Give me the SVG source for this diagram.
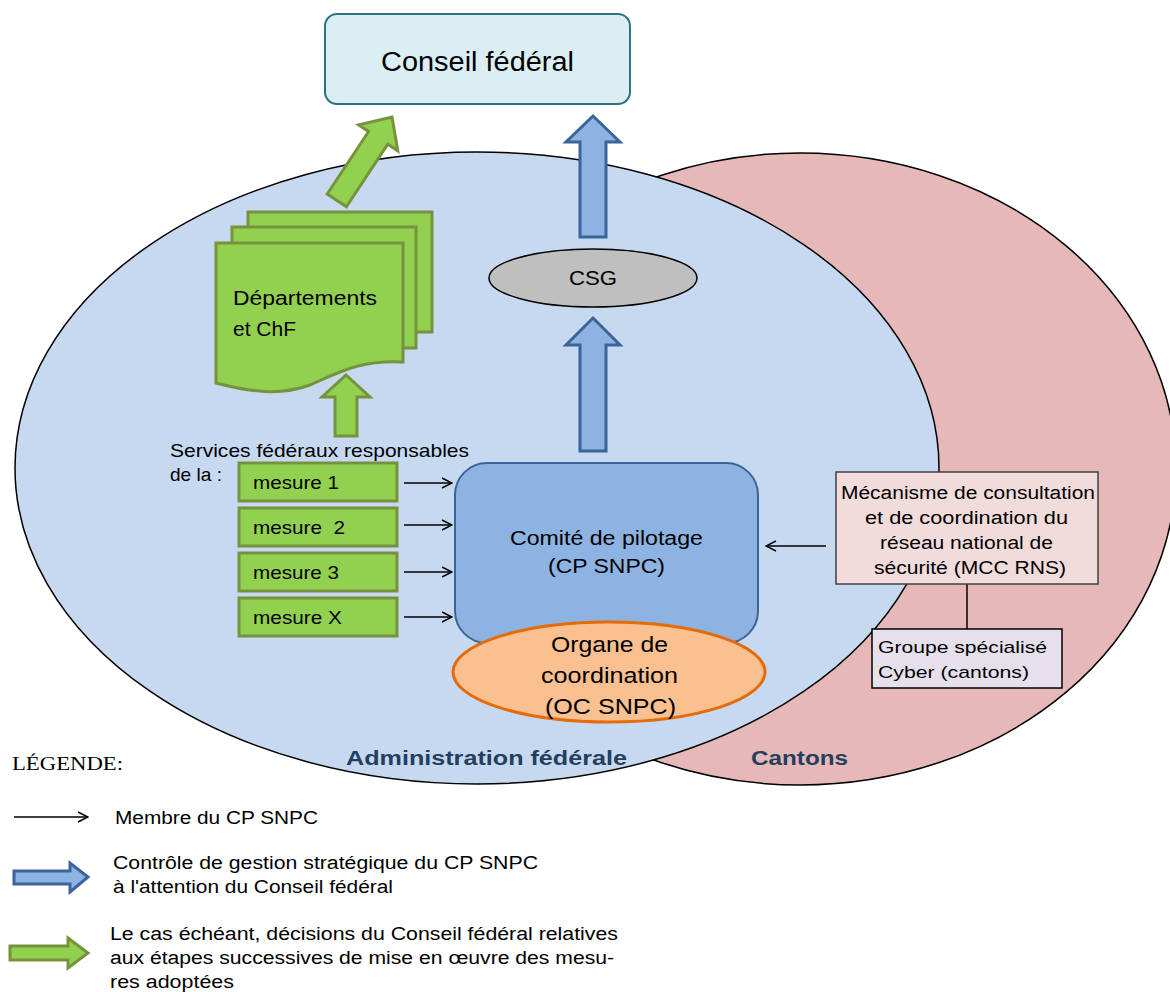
<svg xmlns="http://www.w3.org/2000/svg" width="1170" height="992" viewBox="0 0 1170 992">
<style>
text{font-family:"Liberation Sans",Arial,sans-serif;fill:#000}
.g{fill:#92d050;stroke:#76923c;stroke-width:3}
.b{fill:#8db3e2;stroke:#3b659a;stroke-width:3}
.ln{stroke:#000;stroke-width:1.5;fill:none}
.lbl{font-size:20px;font-weight:bold;fill:#243f60}
</style>
<defs>
<marker id="ah" viewBox="0 0 12 12" refX="11" refY="6" markerWidth="12" markerHeight="12" markerUnits="userSpaceOnUse" orient="auto">
<path d="M1,1 L11,6 L1,11" fill="none" stroke="#000" stroke-width="1.5"/>
</marker>
</defs>
<rect width="1170" height="992" fill="#fff"/>
<g id="cantons-area">
<ellipse cx="800" cy="469" rx="376" ry="316" fill="#e6b9b8" stroke="#000" stroke-width="1.5"/>
</g>
<g id="admin-area">
<ellipse cx="477" cy="468" rx="462" ry="316" fill="#c6d9f1" stroke="#000" stroke-width="1.5"/>
</g>
<text class="lbl" x="346" y="765" font-size="21" textLength="281" lengthAdjust="spacingAndGlyphs">Administration fédérale</text>
<text class="lbl" x="751" y="765" font-size="21" textLength="97" lengthAdjust="spacingAndGlyphs">Cantons</text>

<g id="conseil">
<rect x="325" y="14" width="305" height="90" rx="12" fill="#dbeef3" stroke="#31707f" stroke-width="2"/>
<text x="381" y="71" font-size="27" textLength="193" lengthAdjust="spacingAndGlyphs">Conseil fédéral</text>
</g>

<g id="departements">
<rect class="g" x="248" y="212" width="184" height="120"/>
<rect class="g" x="232" y="227" width="184" height="121"/>
<path class="g" d="M216,243 H403 V362 C360,360 340,372 310,385 C280,396 250,392 216,383 Z"/>
<text x="233" y="305" font-size="20" textLength="144" lengthAdjust="spacingAndGlyphs">Départements</text>
<text x="233" y="336" font-size="20" textLength="63" lengthAdjust="spacingAndGlyphs">et ChF</text>
</g>

<g id="connectors">
<path class="g" transform="translate(392,117) rotate(33.5)" d="M0,0 L23.5,25 L11.5,25 L11.5,100 L-11.5,100 L-11.5,25 L-23.5,25 Z"/>
<path class="g" d="M346,375 L370,397 L357,397 L357,436 L335,436 L335,397 L322,397 Z"/>
<path class="b" d="M593,116 L620,142 L606,142 L606,237 L580,237 L580,142 L566,142 Z"/>
<path class="b" d="M593,318 L620,345 L606,345 L606,451 L580,451 L580,345 L566,345 Z"/>
<line class="ln" x1="404" y1="483" x2="452" y2="483" marker-end="url(#ah)"/>
<line class="ln" x1="404" y1="525" x2="452" y2="525" marker-end="url(#ah)"/>
<line class="ln" x1="404" y1="572" x2="452" y2="572" marker-end="url(#ah)"/>
<line class="ln" x1="404" y1="617" x2="452" y2="617" marker-end="url(#ah)"/>
<line class="ln" x1="826" y1="546" x2="766" y2="546" marker-end="url(#ah)"/>
<line class="ln" x1="967" y1="584" x2="967" y2="629"/>
</g>

<g id="csg">
<ellipse cx="593" cy="278" rx="104" ry="29" fill="#bfbfbf" stroke="#000" stroke-width="1.5"/>
<text x="569" y="285" font-size="21" textLength="48" lengthAdjust="spacingAndGlyphs">CSG</text>
</g>

<g id="services">
<text x="170" y="457" font-size="19" textLength="299" lengthAdjust="spacingAndGlyphs">Services fédéraux responsables</text>
<text x="170" y="481" font-size="19" textLength="52" lengthAdjust="spacingAndGlyphs">de la :</text>
</g>
<g id="mesure1">
<rect class="g" x="239" y="463" width="158" height="38"/>
<text x="253" y="489" font-size="19" textLength="86" lengthAdjust="spacingAndGlyphs">mesure 1</text>
</g>
<g id="mesure2">
<rect class="g" x="239" y="508" width="158" height="38"/>
<text x="253" y="534" font-size="19" xml:space="preserve" textLength="92" lengthAdjust="spacingAndGlyphs">mesure  2</text>
</g>
<g id="mesure3">
<rect class="g" x="239" y="553" width="158" height="38"/>
<text x="253" y="579" font-size="19" textLength="86" lengthAdjust="spacingAndGlyphs">mesure 3</text>
</g>
<g id="mesureX">
<rect class="g" x="239" y="598" width="158" height="38"/>
<text x="253" y="624" font-size="19" textLength="89" lengthAdjust="spacingAndGlyphs">mesure X</text>
</g>

<g id="comite">
<rect x="455" y="463" width="303" height="180" rx="32" fill="#8db3e2" stroke="#3b659a" stroke-width="2"/>
<text x="510" y="545" font-size="20" textLength="193" lengthAdjust="spacingAndGlyphs">Comité de pilotage</text>
<text x="548" y="573" font-size="20" textLength="117" lengthAdjust="spacingAndGlyphs">(CP SNPC)</text>
</g>

<g id="organe">
<ellipse cx="609" cy="672" rx="156" ry="50" fill="#fac090" stroke="#e36c09" stroke-width="3"/>
<text x="551" y="652" font-size="22" textLength="117" lengthAdjust="spacingAndGlyphs">Organe de</text>
<text x="541" y="683" font-size="22" textLength="137" lengthAdjust="spacingAndGlyphs">coordination</text>
<text x="545" y="714" font-size="22" textLength="131" lengthAdjust="spacingAndGlyphs">(OC SNPC)</text>
</g>

<g id="mcc">
<rect x="836" y="472" width="262" height="112" fill="#f2dcdb" stroke="#404040" stroke-width="1.5"/>
<text x="841" y="499" font-size="18" textLength="254" lengthAdjust="spacingAndGlyphs">Mécanisme de consultation</text>
<text x="865" y="524" font-size="18" textLength="203" lengthAdjust="spacingAndGlyphs">et de coordination du</text>
<text x="880" y="549" font-size="18" textLength="173" lengthAdjust="spacingAndGlyphs">réseau national de</text>
<text x="874" y="574" font-size="18" textLength="192" lengthAdjust="spacingAndGlyphs">sécurité (MCC RNS)</text>
</g>

<g id="groupe">
<rect x="872" y="629" width="190" height="59" fill="#e6e0ec" stroke="#000" stroke-width="1.5"/>
<text x="878" y="653" font-size="17" textLength="169" lengthAdjust="spacingAndGlyphs">Groupe spécialisé</text>
<text x="878" y="678" font-size="17" textLength="151" lengthAdjust="spacingAndGlyphs">Cyber (cantons)</text>
</g>

<g id="legende">
<text x="12" y="770" font-size="19" textLength="111" lengthAdjust="spacingAndGlyphs" style="font-family:'Liberation Serif','Times New Roman',serif">LÉGENDE:</text>
<line class="ln" x1="14" y1="817" x2="88" y2="817" marker-end="url(#ah)"/>
<text x="115" y="824" font-size="18" textLength="203" lengthAdjust="spacingAndGlyphs">Membre du CP SNPC</text>
<path class="b" d="M14,871 L70,871 L70,863 L88,877 L70,892 L70,884 L14,884 Z"/>
<text x="113" y="869" font-size="18" textLength="425" lengthAdjust="spacingAndGlyphs">Contrôle de gestion stratégique du CP SNPC</text>
<text x="113" y="893" font-size="18" textLength="280" lengthAdjust="spacingAndGlyphs">à l'attention du Conseil fédéral</text>
<path class="g" d="M10,946 L68,946 L68,938 L88,953 L68,968 L68,960 L10,960 Z"/>
<text x="110" y="940" font-size="18" textLength="508" lengthAdjust="spacingAndGlyphs">Le cas échéant, décisions du Conseil fédéral relatives</text>
<text x="110" y="964" font-size="18" textLength="504" lengthAdjust="spacingAndGlyphs">aux étapes successives de mise en œuvre des mesu-</text>
<text x="110" y="988" font-size="18" textLength="124" lengthAdjust="spacingAndGlyphs">res adoptées</text>
</g>
</svg>
